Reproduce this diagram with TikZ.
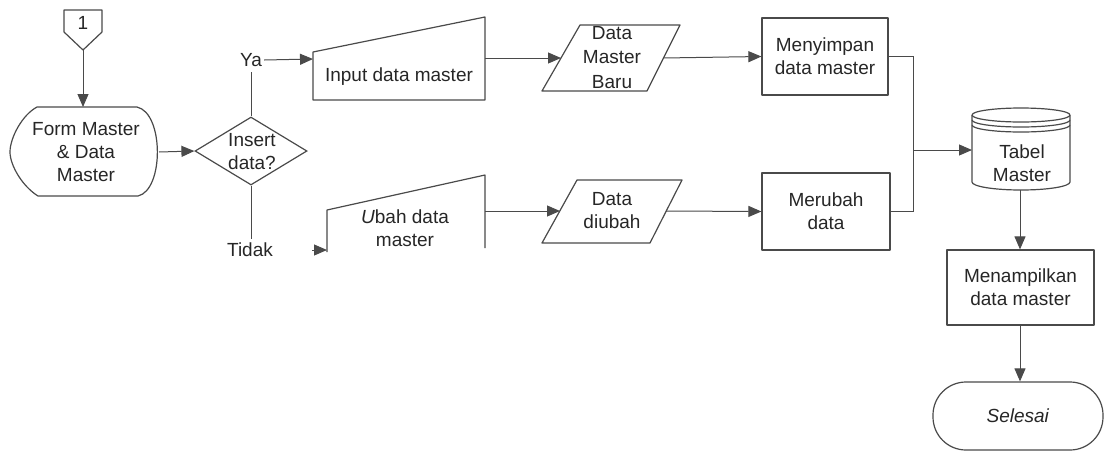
\documentclass[tikz,border=0pt]{standalone}
\usepackage{fontspec}
\setmainfont{Liberation Sans}
\usetikzlibrary{arrows.meta,shapes.geometric}
\definecolor{linec}{HTML}{4A4A4A}
\definecolor{txtc}{HTML}{262626}
\begin{document}
\begin{tikzpicture}[x=1pt,y=-1pt,
  conn/.style={draw=linec, line width=1pt},
  arr/.style={conn, -{Triangle[length=13pt,width=11pt]}},
  outline/.style={draw=linec, line width=1.2pt, line join=round},
  lbl/.style={font=\fontsize{19}{23}\selectfont, text=txtc, align=center, inner sep=0pt},
  boxn/.style={outline, lbl, rectangle},
]
\useasboundingbox (0,0) rectangle (1104,451);

% off-page connector
\draw[outline] (64,10) -- (102,10) -- (102,32) -- (83,50) -- (64,32) -- cycle;
\node[lbl] (one) at (83,23) {1};
\coordinate (oneB) at (83,50);

% display shape
\draw[outline] (37,107) -- (137,107)
  .. controls (164,113) and (164,190) .. (138,196) -- (38,196)
  .. controls (22,186) and (10,165) .. (10,152)
  .. controls (10,138) and (22,115) .. (37,107) -- cycle;
\node[lbl] (form) at (86,152) {Form Master\\\& Data\\Master};
\coordinate (formT) at (83,107);
\coordinate (formR) at (159,152);

% decision
\node[draw=linec, line width=1.2pt, diamond, aspect=1.65, minimum width=112pt, minimum height=68pt, inner sep=0pt] (dec) at (251,151) {};
\node[lbl] at (252,152) {Insert\\data?};
\node[lbl] (ya) at (251,60) {Ya};
\node[lbl] (tidak) at (250,250) {Tidak};

% manual input 1
\draw[outline] (313,100) -- (313,52) -- (485,17) -- (485,100) -- cycle;
\node[lbl] (inp) at (399,77) {Input data master};
\coordinate (inpL) at (313,59);
\coordinate (inpR) at (485,58);

% manual input 2 (open bottom)
\draw[outline] (327,252) -- (327,210) -- (485,175) -- (485,248);
\node[lbl] (ubah) at (405,228) {\textit{U}bah data\\master};
\coordinate (ubahL) at (327,250);
\coordinate (ubahR) at (485,211);

% parallelogram 1
\draw[outline] (542,91) -- (580,25) -- (680,25) -- (647,91) -- cycle;
\node[lbl,font=\fontsize{19}{24.5}\selectfont] (dmb) at (612,57.5) {Data\\Master\\Baru};
\coordinate (dmbL) at (561,58);
\coordinate (dmbR) at (663,58);

% parallelogram 2
\draw[outline] (542,243) -- (577,180) -- (682,180) -- (650,243) -- cycle;
\node[lbl] (dd) at (612,211) {Data\\diubah};
\coordinate (ddL) at (560,211);
\coordinate (ddR) at (666,211);

% process boxes
\node[boxn, minimum width=126pt, minimum height=77pt] (simpan) at (825,56.5) {Menyimpan\\data master};
\node[boxn, minimum width=128pt, minimum height=77pt] (rubah) at (826,211.5) {Merubah\\data};
\node[boxn, minimum width=147pt, minimum height=75pt] (tampil) at (1020.5,287.5) {Menampilkan\\data master};

% cylinder
\draw[outline] (972,115) -- (972,182)
  arc[start angle=180, end angle=360, x radius=49pt, y radius=8pt]
  -- (1070,115);
\draw[outline] (1021,115) ellipse[x radius=49pt, y radius=7pt];
\draw[outline] (972,120) arc[start angle=180, end angle=360, x radius=49pt, y radius=7pt];
\draw[outline] (972,125) arc[start angle=180, end angle=360, x radius=49pt, y radius=7pt];
\node[lbl] (tabel) at (1022,163) {Tabel\\Master};
\coordinate (tabL) at (972,150);
\coordinate (tabB) at (1020,190);

% terminal
\node[outline, lbl, rectangle, rounded corners=33pt, minimum width=170pt, minimum height=68pt] (selesai) at (1018,416) {\textit{Selesai}};

% connectors
\draw[arr] (oneB) -- (formT);
\draw[arr] (formR) -- (dec.west);
\draw[conn] (dec.north) -- (251,72);
\draw[arr] (ya.east) ++(2,0) -- (inpL);
\draw[conn] (dec.south) -- (251,239);
\draw[arr] (312,250) -- (ubahL);
\draw[arr] (inpR) -- (dmbL);
\draw[arr] (dmbR) -- (simpan.west);
\draw[arr] (ubahR) -- (ddL);
\draw[arr] (ddR) -- (rubah.west);
\coordinate (merge) at (913,150);
\draw[conn] (simpan.east) -| (merge);
\draw[conn] (rubah.east) -| (merge);
\draw[arr] (merge) -- (tabL);
\draw[arr] (tabB) -- (tampil.north -| tabB);
\draw[arr] (tampil.south -| tabB) -- (selesai.north -| tabB);
\end{tikzpicture}
\end{document}
